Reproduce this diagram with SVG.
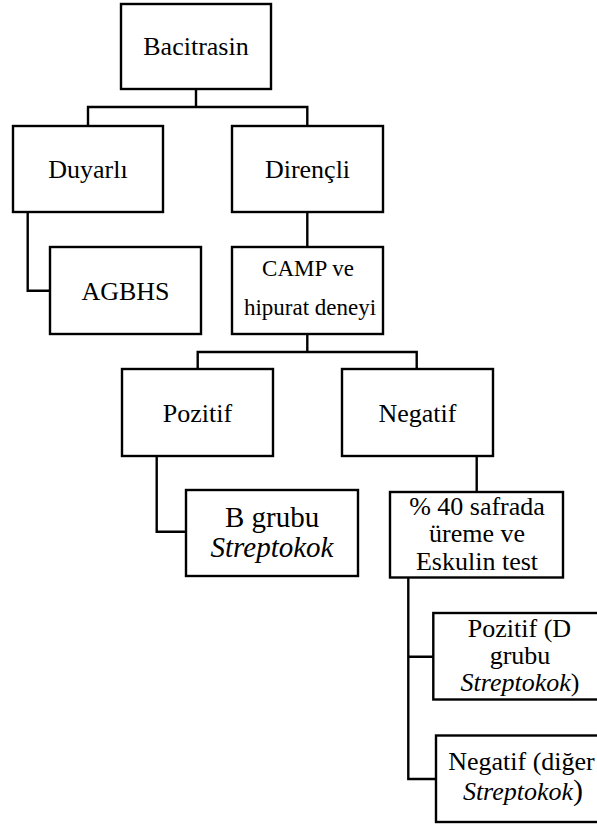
<svg xmlns="http://www.w3.org/2000/svg" width="597" height="824" viewBox="0 0 597 824">
<style>
.box{fill:#fff;stroke:#000;stroke-width:2.4}
.con{fill:none;stroke:#000;stroke-width:2.4}
.t{font-family:'Liberation Serif','Times New Roman',serif;fill:#000;text-anchor:middle;font-size:26px}
.m{font-size:23px}
.b{font-size:29px}
.i{font-style:italic}
</style>
<rect width="597" height="824" fill="#fff"/>
<g id="connectors">
<path class="con" d="M196 89V107M88 125.5V107H307.3V125.5"/>
<path class="con" d="M27.7 212V290.7H50"/>
<path class="con" d="M307.3 212V247"/>
<path class="con" d="M307.3 334V352M197.7 369V352H416.7V369"/>
<path class="con" d="M156.7 456V531.7H186"/>
<path class="con" d="M476.7 456V492"/>
<path class="con" d="M408.3 577V779H436M408.3 656.7H433.3"/>
</g>
<g id="bacitrasin"><rect class="box" x="121" y="4" width="150" height="85"/><text class="t" x="196" y="55">Bacitrasin</text></g>
<g id="duyarli"><rect class="box" x="13" y="126" width="150" height="86"/><text class="t" x="88" y="177.5">Duyarlı</text></g>
<g id="direncli"><rect class="box" x="232" y="126" width="151" height="86"/><text class="t" x="307.5" y="177.5">Dirençli</text></g>
<g id="agbhs"><rect class="box" x="50" y="247" width="151" height="87"/><text class="t" x="125.5" y="299.5">AGBHS</text></g>
<g id="camp"><rect class="box" x="232" y="247" width="151" height="87"/><text class="t m" x="308" y="276">CAMP ve</text><text class="t m" x="310" y="314.5">hipurat deneyi</text></g>
<g id="pozitif"><rect class="box" x="122" y="369" width="151" height="87"/><text class="t" x="197.5" y="421.5">Pozitif</text></g>
<g id="negatif"><rect class="box" x="342" y="369" width="151" height="87"/><text class="t" x="417.5" y="421.5">Negatif</text></g>
<g id="bgrubu"><rect class="box" x="186" y="490" width="172" height="86"/><text class="t b" x="272" y="526.5">B grubu</text><text class="t b i" x="272" y="556.5">Streptokok</text></g>
<g id="safra"><rect class="box" x="390" y="492" width="173" height="85.5"/><text class="t" x="477" y="515">% 40 safrada</text><text class="t" x="477" y="542">üreme ve</text><text class="t" x="477" y="570">Eskulin test</text></g>
<g id="pozitifD"><rect class="box" x="433.3" y="613" width="174" height="86.5"/><text class="t" x="519.5" y="636.5">Pozitif (D</text><text class="t" x="520" y="664">grubu</text><text class="t" x="520" y="690.5"><tspan class="i">Streptokok</tspan>)</text></g>
<g id="negatifDiger"><rect class="box" x="436" y="735.5" width="174" height="86.5"/><text class="t" x="521.5" y="770">Negatif (diğer</text><text class="t" x="523" y="800"><tspan class="i">Streptokok</tspan><tspan font-size="30">)</tspan></text></g>
</svg>
